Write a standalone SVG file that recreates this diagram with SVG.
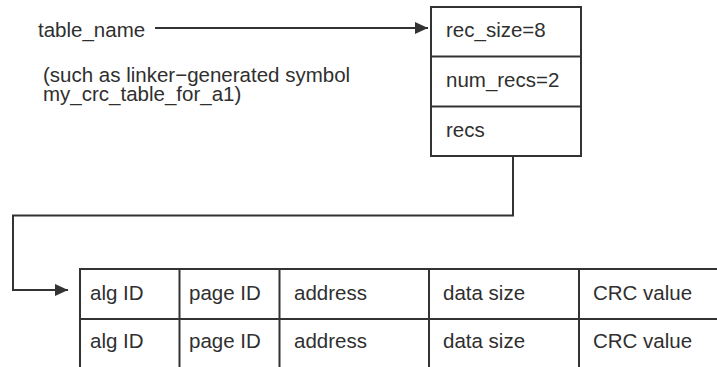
<svg xmlns="http://www.w3.org/2000/svg" width="717" height="367" viewBox="0 0 717 367">
<defs>
<style>
text{font-family:"Liberation Sans",Arial,sans-serif;font-size:20.5px;fill:#2f2f2f}
.ln{fill:none;stroke:#333;stroke-width:2}
</style>
<marker id="ah" viewBox="0 0 13 12" refX="13" refY="6" markerWidth="13" markerHeight="12" markerUnits="userSpaceOnUse" orient="auto">
<path d="M0,0 L13,6 L0,12 Z" fill="#333"/>
</marker>
</defs>
<rect width="717" height="367" fill="#fff"/>
<g id="label-table-name">
<text x="38" y="37">table_name</text>
</g>
<g id="note">
<text x="43" y="82">(such as linker−generated symbol</text>
<text x="43" y="101">my_crc_table_for_a1)</text>
</g>
<g id="header-struct">
<rect class="ln" x="431" y="7" width="150" height="149"/>
<line class="ln" x1="431" y1="56.5" x2="581" y2="56.5"/>
<line class="ln" x1="431" y1="106.5" x2="581" y2="106.5"/>
<text x="446" y="37">rec_size=8</text>
<text x="446" y="87">num_recs=2</text>
<text x="446" y="137">recs</text>
</g>
<g id="records-table">
<path class="ln" d="M80,367 V269 H717 M80,319 H717 M179.5,269 V367 M279.5,269 V367 M429,269 V367 M579,269 V367"/>
<text x="90" y="300">alg ID</text>
<text x="189" y="300">page ID</text>
<text x="294" y="300">address</text>
<text x="443" y="300">data size</text>
<text x="593" y="300">CRC value</text>
<text x="90" y="348">alg ID</text>
<text x="189" y="348">page ID</text>
<text x="294" y="348">address</text>
<text x="443" y="348">data size</text>
<text x="593" y="348">CRC value</text>
</g>
<g id="connectors">
<line class="ln" x1="155" y1="28" x2="428" y2="28" marker-end="url(#ah)"/>
<path class="ln" d="M513,156 V215.5 H13 V290 H68" marker-end="url(#ah)"/>
</g>
</svg>
